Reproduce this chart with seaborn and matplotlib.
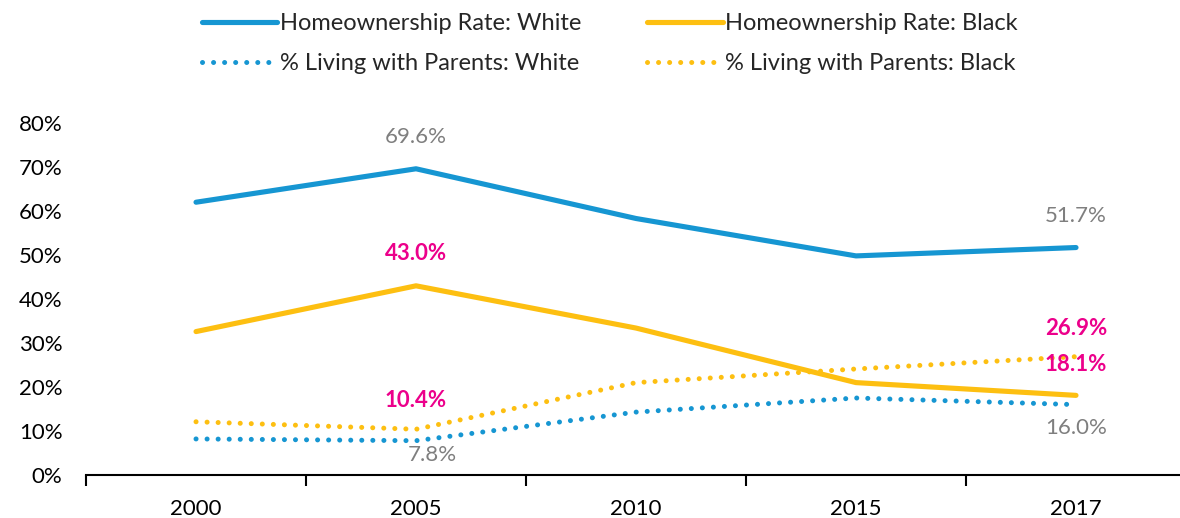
import matplotlib
matplotlib.use("Agg")
import matplotlib.pyplot as plt
import seaborn as sns
import pandas as pd

years = ["2000", "2005", "2010", "2015", "2017"]
own_white = [62.0, 69.6, 58.3, 49.8, 51.7]
own_black = [32.6, 43.0, 33.4, 21.0, 18.1]
parents_white = [8.2, 7.8, 14.3, 17.5, 16.0]
parents_black = [12.1, 10.4, 21.0, 24.1, 26.9]

series = {
    "Homeownership Rate: White": own_white,
    "Homeownership Rate: Black": own_black,
    "% Living with Parents: White": parents_white,
    "% Living with Parents: Black": parents_black,
}

BLUE = "#1696d2"
YELLOW = "#fdbf11"
MAGENTA = "#ec008b"
GRAY = "#7f7f7f"

sns.set_theme(style="white")
plt.rcParams["font.family"] = ["Lato", "DejaVu Sans"]

rows = []
for name, vals in series.items():
    for i, v in enumerate(vals):
        rows.append({"series": name, "x": i, "value": v})
df = pd.DataFrame(rows)

fig = plt.figure(figsize=(11.8, 5.18), dpi=100)
ax = fig.add_axes([0.0729, 0.083, 0.9271, 0.6795])

palette = {
    "Homeownership Rate: White": BLUE,
    "Homeownership Rate: Black": YELLOW,
    "% Living with Parents: White": BLUE,
    "% Living with Parents: Black": YELLOW,
}

lines = {}
for name in series:
    sub = df[df["series"] == name]
    dotted = name.startswith("%")
    sns.lineplot(data=sub, x="x", y="value", ax=ax, color=palette[name],
                 linewidth=3.6 if dotted else 3.7, label=name, legend=False)
    line = ax.lines[-1]
    if dotted:
        line.set_linestyle((0, (0.01, 2.2)))
        line.set_dash_capstyle("round")
    else:
        line.set_solid_capstyle("round")
    lines[name] = line

# data labels
labels = [
    (1, own_white[1], "69.6%", GRAY, "normal", 0, 23),
    (4, own_white[4], "51.7%", GRAY, "normal", 0, 23),
    (1, own_black[1], "43.0%", MAGENTA, "bold", 0, 23),
    (1, parents_black[1], "10.4%", MAGENTA, "bold", 0, 21),
    (1, parents_white[1], "7.8%", GRAY, "normal", 12, -10),
    (4, parents_black[4], "26.9%", MAGENTA, "bold", 0, 20),
    (4, own_black[4], "18.1%", MAGENTA, "bold", 0, 22),
    (4, parents_white[4], "16.0%", GRAY, "normal", 0, -17),
]
for xi, yv, txt, col, wt, dx, dy in labels:
    ax.annotate(txt, (xi, yv), xytext=(dx, dy), textcoords="offset points",
                ha="center", va="center", color=col, fontsize=16,
                fontweight=wt, annotation_clip=False)

ax.set_xlim(-0.5, -0.5 + 1094 / 220)
ax.set_ylim(0, 80)
ax.set_xticks(range(len(years)))
ax.set_xticklabels(years)
ax.set_xticks([i - 0.5 for i in range(len(years))], minor=True)
ax.tick_params(axis="x", which="major", length=0, pad=17, labelsize=16,
               colors="black")
ax.tick_params(axis="x", which="minor", length=8, width=1.5, direction="out",
               color="black", bottom=True)
ax.set_yticks(range(0, 81, 10))
ax.set_yticklabels([f"{v}%" for v in range(0, 81, 10)])
ax.tick_params(axis="y", length=0, pad=17, labelsize=16, colors="black")
ax.set_xlabel("")
ax.set_ylabel("")

for s in ["top", "right", "left"]:
    ax.spines[s].set_visible(False)
ax.spines["bottom"].set_color("black")
ax.spines["bottom"].set_linewidth(1.5)

order = ["Homeownership Rate: White", "% Living with Parents: White",
         "Homeownership Rate: Black", "% Living with Parents: Black"]
fig.legend(handles=[lines[k] for k in order], labels=order, loc="upper left",
           bbox_to_anchor=(0.161, 0.997), ncol=2, frameon=False, fontsize=17,
           handlelength=3.2, handletextpad=0.1, columnspacing=2.8,
           labelspacing=0.78, borderpad=0)

fig.savefig("out.png", dpi=100)
plt.close(fig)
